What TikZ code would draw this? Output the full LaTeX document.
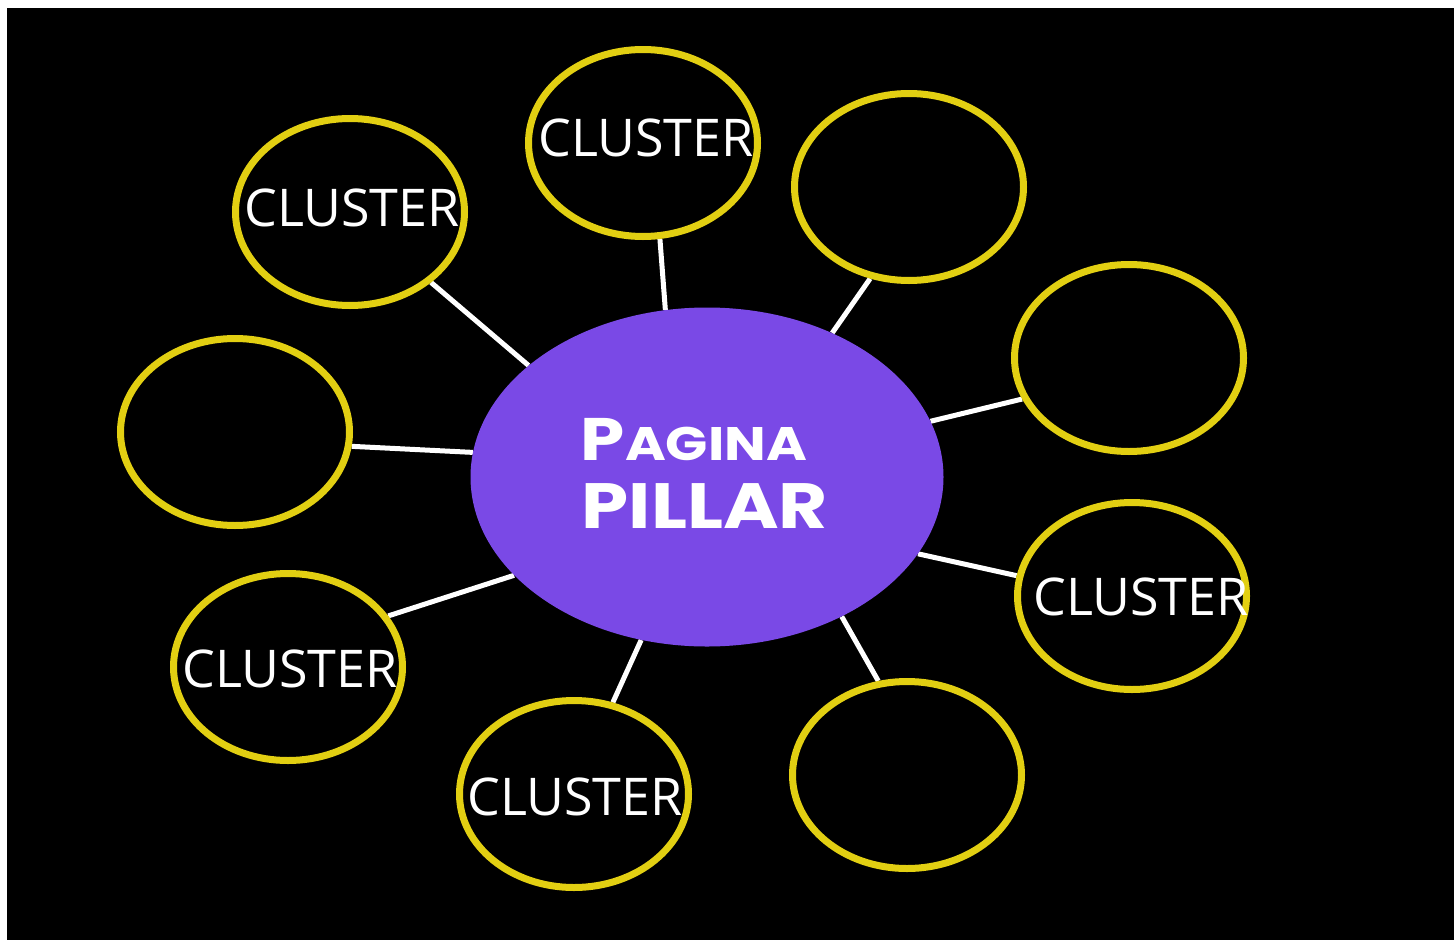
\documentclass[tikz,border=0pt]{standalone}
\usepackage{fontspec}
\usetikzlibrary{shapes.geometric,backgrounds}
\newfontfamily\clusterfont{Open Sans}
\newfontfamily\pillarfont[FakeStretch=1.18]{Poppins}
\definecolor{pillarpurple}{HTML}{7A49E6}
\definecolor{ringyellow}{HTML}{E2CF12}
\tikzset{
  ring/.style={ellipse, draw=ringyellow, line width=7pt, minimum width=229pt,
    minimum height=187pt, inner sep=0pt},
  pillar/.style={ellipse, fill=pillarpurple, minimum width=473pt,
    minimum height=339pt, inner sep=0pt},
  link/.style={draw=white, line width=5pt},
  clustertext/.style={text=white, anchor=base, inner sep=0pt,
    font=\clusterfont\fontsize{52}{60}\selectfont},
  pillartext/.style={text=white, anchor=base, inner sep=0pt,
    font=\pillarfont\bfseries}
}
\begin{document}
\begin{tikzpicture}[x=1pt,y=-1pt]
  \useasboundingbox (0,0) rectangle (1454,940);

  % hub and surrounding rings
  \node[pillar] (hub) at (707,477) {};
  \node[ring] (r1) at (350,212) {};
  \node[ring] (r2) at (643,143) {};
  \node[ring] (r3) at (909,187) {};
  \node[ring] (r4) at (1129,358) {};
  \node[ring] (r5) at (1132,596) {};
  \node[ring] (r6) at (907,775) {};
  \node[ring] (r7) at (574,794) {};
  \node[ring] (r8) at (288,667) {};
  \node[ring] (r9) at (235,432) {};

  % page, canvas and spokes behind the shapes
  \begin{scope}[on background layer]
    \fill[white] (0,0) rectangle (1454,940);
    \fill[black] (7,8) rectangle (1454,940);
    \path[link] (r1.-41.7) -- (hub.148.2);
    \path[link] (r2.-80.9) -- (hub.104.8);
    \path[link] (r3.-113.6) -- (hub.49.7);
    \path[link] (r4.201.4) -- (hub.14.4);
    \path[link] (r5.170.2) -- (hub.-20.6);
    \path[link] (r6.107.4) -- (hub.-46.9);
    \path[link] (r7.67.6) -- (hub.-112.6);
    \path[link] (r8.27.4) -- (hub.207.4);
    \path[link] (r9.-7.2) -- (hub.174.4);
  \end{scope}

  % labels
  \node[pillartext] (t1) at (694,460)
    {\fontsize{60}{60}\selectfont P\fontsize{47}{60}\selectfont AGINA};
  \node[pillartext] (t2) at (705,528)
    {\fontsize{64}{64}\selectfont PILLAR};
  \node[clustertext] (c1) at (352,226) {CLUSTER};
  \node[clustertext] (c2) at (646,156) {CLUSTER};
  \node[clustertext] (c5) at (1141,615) {CLUSTER};
  \node[clustertext] (c7) at (575,815) {CLUSTER};
  \node[clustertext] (c8) at (290,687) {CLUSTER};
\end{tikzpicture}
\end{document}
